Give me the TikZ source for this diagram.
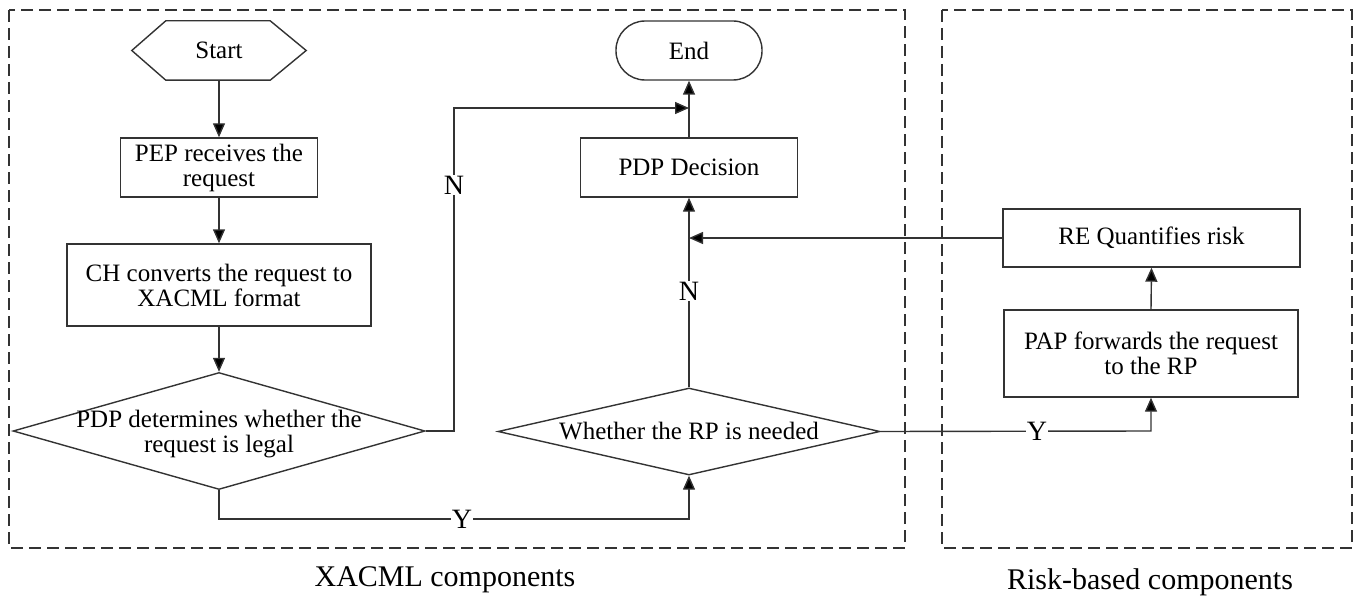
\documentclass[tikz,border=0pt]{standalone}
\usepackage{fontspec}
\setmainfont{Liberation Serif}
\usetikzlibrary{shapes.geometric,arrows.meta}
\begin{document}
\begin{tikzpicture}[x=1pt,y=-1pt,
  ln/.style={line width=1.4pt, draw=black!80},
  arr/.style={ln,-{Triangle[length=14pt,width=12pt,fill=black]}},
  txt/.style={font=\fontsize{25}{25}\selectfont, align=center, text=black},
  box/.style={ln, rectangle, txt, inner sep=0pt},
  dia/.style={ln, diamond, inner sep=0pt},
  lab/.style={font=\fontsize{28}{28}\selectfont, fill=white, inner sep=1pt, text=black},
  captxt/.style={font=\fontsize{30}{30}\selectfont, text=black},
  grp/.style={line width=1.2pt, draw=black!80, dash pattern=on 12pt off 6pt}]
\useasboundingbox (0,0) rectangle (1354,599);
% group frames
\draw[grp] (9,10) rectangle (905,548);
\draw[grp] (942,10) rectangle (1352,548);
% nodes
\node[txt, minimum width=174pt, minimum height=59pt, inner sep=0pt] (start) at (219,50.5) {Start};
\draw[ln] (start.west) -- ([xshift=34pt]start.north west) -- ([xshift=-36pt]start.north east)
  -- (start.east) -- ([xshift=-36pt]start.south east) -- ([xshift=34pt]start.south west) -- cycle;
\node[box, draw, minimum width=197pt, minimum height=59pt] (pep) at (219,167.5) {PEP receives the\\request};
\node[box, draw, minimum width=304pt, minimum height=82pt] (ch) at (219,285) {CH converts the request to\\XACML format};
\node[dia, draw, minimum width=412pt, minimum height=117pt] (d1) at (219,431) {};
\node[txt] (d1t) at (219,434) {PDP determines whether the\\request is legal};
\node[box, draw, rounded corners=29pt, minimum width=146pt, minimum height=59pt] (end) at (689,50.5) {End};
\node[box, draw, minimum width=217pt, minimum height=59pt] (pdp) at (689,167.5) {PDP Decision};
\node[dia, draw, minimum width=382pt, minimum height=87pt] (d2) at (689,431.5) {};
\node[txt] (d2t) at (689,431.5) {Whether the RP is needed};
\node[box, draw, minimum width=297pt, minimum height=58pt] (re) at (1151.5,238) {RE Quantifies risk};
\node[box, draw, minimum width=294pt, minimum height=87pt] (pap) at (1151,353.5) {PAP forwards the request\\to the RP};
% helper coordinates
\coordinate (n1) at (454,431);
\coordinate (n2) at (454,108);
\coordinate (j2) at (689,108);
\coordinate (j1) at (689,238);
\coordinate (y1) at (219,519);
\coordinate (y2) at (689,519);
\coordinate (c1) at (1151,431);
% connectors
\draw[arr] (start.south) -- (pep.north);
\draw[arr] (pep.south) -- (ch.north);
\draw[arr] (ch.south) -- (d1.north);
\draw[arr] (pdp.north) -- (end.south);
\draw[arr] (d1.east) -- (n1) -- (n2) -- (j2);
\draw[arr] (d1.south) -- (y1) -- (y2) -- (d2.south);
\draw[arr] (d2.north) -- (pdp.south);
\draw[arr] (re.west) -- (j1);
\draw[arr] (d2.east) -- (c1) -- (pap.south);
\draw[arr] (pap.north) -- (re.south);
% labels
\node[lab] (lN1) at (454,185) {N};
\node[lab] (lN2) at (689,291) {N};
\node[lab] (lY1) at (462,519) {Y};
\node[lab] (lY2) at (1037,431) {Y};
% captions
\node[captxt] (capx) at (445,580) {XACML components};
\node[captxt] (capr) at (1150,582) {Risk-based components};
\end{tikzpicture}
\end{document}
